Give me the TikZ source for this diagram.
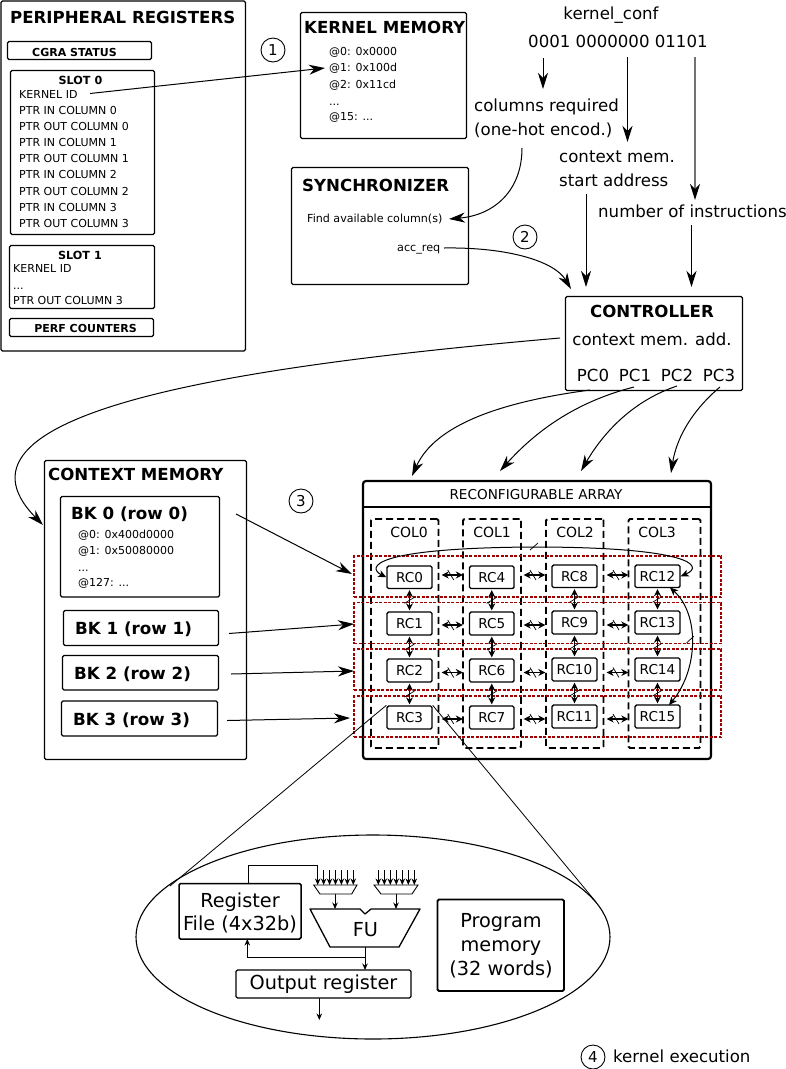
\documentclass[tikz,border=0pt]{standalone}
\usepackage{fontspec}
\setmainfont{DejaVu Sans}
\usetikzlibrary{arrows.meta,calc,shapes.geometric}
\definecolor{redline}{HTML}{A00000}
\newcommand{\FS}[1]{\fontsize{#1}{#1}\selectfont}
\newcommand{\BB}[7]{% name x1 y1 x2 y2 style text
  \node[boxbase,#6,minimum width=#4 pt-#2 pt,minimum height=#5 pt-#3 pt] (#1) at ({(#2+#4)/2},{(#3+#5)/2}) {#7};}
\newcommand{\TL}[5]{\node[anchor=west,yshift={-0.11*#4 pt},inner sep=0pt,font=\FS{#4}] (#1) at (#2,#3) {\vphantom{Ag}#5};}
\newcommand{\TB}[5]{\node[anchor=west,yshift={-0.11*#4 pt},inner sep=0pt,font=\FS{#4}\bfseries] (#1) at (#2,#3) {\vphantom{Ag}#5};}
\newcommand{\TC}[5]{\node[anchor=center,yshift={-0.11*#4 pt},inner sep=0pt,font=\FS{#4}] (#1) at (#2,#3) {\vphantom{Ag}#5};}
\newcommand{\TCB}[5]{\node[anchor=center,yshift={-0.11*#4 pt},inner sep=0pt,font=\FS{#4}\bfseries] (#1) at (#2,#3) {\vphantom{Ag}#5};}
\newcommand{\CIRC}[4]{\node[circle,draw,line width=0.9pt,minimum size=24pt,inner sep=0pt,font=\FS{15}] (#1) at (#2,#3) {#4};}
\tikzset{
  boxbase/.style={draw,inner sep=0pt,line width=1.1pt,rounded corners=1.5pt,align=center},
  panel/.style={fill=white},
  bigarrow/.style={line width=1pt,-{Stealth[length=16pt,width=10pt,inset=5pt]}},
  rclink/.style={line width=1.6pt,{Stealth[length=7pt,width=7pt]}-{Stealth[length=7pt,width=7pt]}},
  feed/.style={line width=1pt,-{Stealth[length=6.5pt,width=5.5pt]}},
  rcbox/.style={line width=1.4pt,fill=white,font=\FS{13.6}},
  coldash/.style={draw,line width=1.9pt,dash pattern=on 7pt off 4pt,rounded corners=1.5pt},
  rowdash/.style={draw=redline,line width=1.1pt,dash pattern=on 3pt off 1.5pt},
}
\newcommand{\HL}[3]{%
  \draw[rclink,shorten <=9pt,shorten >=6pt] (#1.east |- 0,#3) -- (#2.west |- 0,#3);
  \draw[line width=0.7pt] ($(#1.east |- 0,#3)!0.5!(#2.west |- 0,#3)+(-3,-5)$) -- ++(6,10);}
\newcommand{\VL}[2]{%
  \draw[rclink,shorten <=1pt,shorten >=1pt] (#1.south) -- (#2.north);
  \draw[line width=0.7pt] ($(#1.south)!0.5!(#2.north)+(-5,3)$) -- ++(10,-6);}
\begin{document}
\begin{tikzpicture}[x=1pt,y=-1pt]
\useasboundingbox (0,0) rectangle (786,1069);
% peripheral registers
\BB{periph}{1}{1}{245.5}{351}{panel}{}
\TB{periphT}{10}{17}{16.6}{PERIPHERAL REGISTERS}
\BB{status}{7.5}{41.5}{151.5}{59.5}{}{}
\TCB{statusT}{74.5}{52}{11}{CGRA STATUS}
\BB{slotz}{10.5}{70.5}{154.5}{234.5}{}{}
\TCB{slotzT}{80.5}{80}{11.2}{SLOT 0}
\TL{kid}{19}{94}{11}{KERNEL ID}
\TL{pa}{19}{110}{11}{PTR IN COLUMN 0}
\TL{pb}{19}{126}{11}{PTR OUT COLUMN 0}
\TL{pc}{19}{142}{11}{PTR IN COLUMN 1}
\TL{pd}{19}{158}{11}{PTR OUT COLUMN 1}
\TL{pe}{19}{174}{11}{PTR IN COLUMN 2}
\TL{pf}{19}{191}{11}{PTR OUT COLUMN 2}
\TL{pg}{19}{207}{11}{PTR IN COLUMN 3}
\TL{ph}{19}{223}{11}{PTR OUT COLUMN 3}
\BB{sloto}{9.5}{245.5}{154.5}{308.5}{}{}
\TCB{slotoT}{80}{255}{11.2}{SLOT 1}
\TL{ska}{13}{268}{11}{KERNEL ID}
\TL{skb}{13}{285}{11}{...}
\TL{skc}{13}{300}{11}{PTR OUT COLUMN 3}
\BB{perf}{9.5}{318.5}{153.5}{336.5}{}{}
\TCB{perfT}{85.5}{328}{11}{PERF COUNTERS}
% kernel memory
\BB{kmem}{300.5}{12.5}{466.5}{138.5}{panel}{}
\TB{kmemT}{304}{27}{16.6}{KERNEL MEMORY}
\TL{kma}{329}{51}{11}{@0: 0x0000}
\TL{kmb}{329}{67}{11}{@1: 0x100d}
\TL{kmc}{329}{84}{11}{@2: 0x11cd}
\TL{kmd}{329}{101}{11}{...}
\TL{kme}{329}{116}{11}{@15: ...}
\CIRC{cone}{273}{50}{1}
\coordinate (kidstart) at (90,93.5);
\coordinate (kidend) at (325,68);
\draw[bigarrow] (kidstart) -- (kidend);
% synchronizer
\BB{sync}{291.5}{167.5}{468.5}{284.5}{panel}{}
\TB{syncT}{302}{185}{16.6}{SYNCHRONIZER}
\TL{find}{307}{218}{11.1}{Find available column(s)}
\TL{req}{397}{248}{11.2}{acc\_req}
% kernel conf
\TC{kc0}{611}{13}{16.6}{kernel\_conf}
\TL{bits}{528}{41}{16.6}{0001 0000000 01101}
\TL{colsA}{474}{105}{16.6}{columns required}
\TL{colsB}{474}{129}{16.6}{(one-hot encod.)}
\TL{ctxA}{559}{156}{16.6}{context mem.}
\TL{ctxB}{559}{180}{16.6}{start address}
\TL{numi}{598}{211}{16.6}{number of instructions}
\coordinate (ba) at (543,58); \coordinate (bb) at (543,89);
\coordinate (ca) at (627.5,57); \coordinate (cb) at (627.5,142);
\coordinate (da) at (695,57); \coordinate (db) at (695,200);
\coordinate (ea) at (586,194); \coordinate (eb) at (586,287);
\coordinate (fa) at (691.5,225); \coordinate (fb) at (691.5,287);
\draw[bigarrow] (ba) -- (bb);
\draw[bigarrow] (ca) -- (cb);
\draw[bigarrow,line width=1.4pt,draw=black!55,-{Stealth[length=16pt,width=10pt,inset=5pt,color=black]}] (da) -- (db);
\draw[bigarrow] (ea) -- (eb);
\draw[bigarrow] (fa) -- (fb);
\coordinate (ga) at (522,148); \coordinate (gb) at (449,219);
\draw[bigarrow] (ga) .. controls (522,190) and (495,215) .. (gb);
\coordinate (ha) at (444,248); \coordinate (hb) at (571,289);
\draw[bigarrow] (ha) .. controls (510,247) and (555,262) .. (hb);
\CIRC{ctwo}{525}{237}{2}
% controller
\BB{ctrl}{565.5}{296.5}{742.5}{390.5}{panel}{}
\TCB{ctrlT}{652}{311}{16.6}{CONTROLLER}
\TC{ctrlA}{652}{339}{16.6}{context mem. add.}
\TC{pcz}{593}{375}{16.6}{PC0}
\TC{pco}{635}{375}{16.6}{PC1}
\TC{pct}{677}{375}{16.6}{PC2}
\TC{pcth}{719}{375}{16.6}{PC3}
\coordinate (ia) at (560,338); \coordinate (ib) at (43,525);
\draw[bigarrow] (ia) .. controls (250,365) and (-70,410) .. (ib);
\coordinate (ja) at (590,390); \coordinate (jb) at (412,476);
\draw[bigarrow] (ja) .. controls (500,402) and (435,425) .. (jb);
\coordinate (pk) at (634,387); \coordinate (pl) at (500,471);
\draw[bigarrow] (pk) .. controls (575,402) and (535,432) .. (pl);
\coordinate (la) at (677,386); \coordinate (lb) at (581,471);
\draw[bigarrow] (la) .. controls (635,400) and (605,430) .. (lb);
\coordinate (pm) at (720,387); \coordinate (pn) at (671,473);
\draw[bigarrow] (pm) .. controls (695,408) and (677,435) .. (pn);
% context memory
\BB{cmem}{44.5}{460.5}{246.5}{759.5}{panel}{}
\TB{cmemT}{48}{474}{16.6}{CONTEXT MEMORY}
\BB{bkz}{60.5}{496.5}{219.5}{597}{}{}
\TB{bkzT}{71}{513}{16.7}{BK 0 (row 0)}
\TL{ba1}{78}{534}{11}{@0: 0x400d0000}
\TL{ba2}{78}{550}{11}{@1: 0x50080000}
\TL{ba3}{78}{567}{11}{...}
\TL{ba4}{78}{582}{11}{@127: ...}
\BB{bko}{63.5}{610.5}{218.5}{645.5}{}{}
\TB{bkoT}{75}{628}{16.7}{BK 1 (row 1)}
\BB{bkt}{62.5}{655.5}{218.5}{690}{}{}
\TB{bktT}{74}{673}{16.7}{BK 2 (row 2)}
\BB{bkh}{61.5}{701}{217.5}{736}{}{}
\TB{bkhT}{73}{719}{16.7}{BK 3 (row 3)}
\CIRC{cthree}{301}{501}{3}
% array
\node[draw,line width=2.2pt,rounded corners=3pt,minimum width=348pt,minimum height=278pt,inner sep=0pt,fill=white] (rarr) at (537,620) {};
\coordinate (hl) at (363,507); \coordinate (hr) at (711,507);
\draw[line width=2pt] (hl) -- (hr);
\TC{raT}{536}{494}{13.6}{RECONFIGURABLE ARRAY}
\BB{cz}{371}{519}{438.5}{748}{coldash}{}
\BB{co}{463}{519}{521}{748}{coldash}{}
\BB{ct}{546}{519}{603.5}{748}{coldash}{}
\BB{ch}{628.5}{519}{700.5}{748}{coldash}{}
\TC{czT}{409}{532}{14}{COL0}
\TC{coT}{492}{532}{14}{COL1}
\TC{ctT}{575}{532}{14}{COL2}
\TC{chT}{657}{532}{14}{COL3}
\BB{rza}{354}{556}{721}{597}{rowdash,rounded corners=0pt}{}
\BB{rzb}{354}{602.5}{721}{643.5}{rowdash,rounded corners=0pt}{}
\BB{rzc}{354}{649}{721}{690}{rowdash,rounded corners=0pt}{}
\BB{rzd}{354}{696}{721}{737}{rowdash,rounded corners=0pt}{}
\BB{rc0}{387}{566}{432}{588.5}{rcbox}{RC0}
\BB{rc1}{387}{612}{432}{635}{rcbox}{RC1}
\BB{rc2}{387}{659}{432}{682}{rcbox}{RC2}
\BB{rc3}{387}{706}{432}{729}{rcbox}{RC3}
\BB{rc4}{469.5}{566}{514}{588.5}{rcbox}{RC4}
\BB{rc5}{469.5}{612}{514}{635}{rcbox}{RC5}
\BB{rc6}{469.5}{659}{514}{682}{rcbox}{RC6}
\BB{rc7}{469.5}{706}{514}{729}{rcbox}{RC7}
\BB{rc8}{552}{565}{597}{587.5}{rcbox}{RC8}
\BB{rc9}{552}{611}{597}{634}{rcbox}{RC9}
\BB{rc10}{552}{658}{597}{681}{rcbox}{RC10}
\BB{rc11}{552}{705}{597}{728}{rcbox}{RC11}
\BB{rc12}{635}{565}{680}{587.5}{rcbox}{RC12}
\BB{rc13}{635}{611}{680}{634}{rcbox}{RC13}
\BB{rc14}{635}{658}{680}{681}{rcbox}{RC14}
\BB{rc15}{635}{705}{680}{728}{rcbox}{RC15}
\VL{rc0}{rc1}\VL{rc1}{rc2}\VL{rc2}{rc3}
\VL{rc4}{rc5}\VL{rc5}{rc6}\VL{rc6}{rc7}
\VL{rc8}{rc9}\VL{rc9}{rc10}\VL{rc10}{rc11}
\VL{rc12}{rc13}\VL{rc13}{rc14}\VL{rc14}{rc15}
\HL{rc0}{rc4}{575}\HL{rc4}{rc8}{575}\HL{rc8}{rc12}{575}
\HL{rc1}{rc5}{625}\HL{rc5}{rc9}{625}\HL{rc9}{rc13}{625}
\HL{rc2}{rc6}{672.5}\HL{rc6}{rc10}{672.5}\HL{rc10}{rc14}{672.5}
\HL{rc3}{rc7}{719}\HL{rc7}{rc11}{719}\HL{rc11}{rc15}{719}
\draw[line width=1pt,{Stealth[length=8pt,width=7pt,inset=2pt]}-{Stealth[length=8pt,width=7pt,inset=2pt]}] (rc0.west) .. controls (368,568) and (368,548) .. (533,547) .. controls (690,547) and (705,566) .. (rc12.east);
\coordinate (rtop) at (670,587.5); \coordinate (rbot) at (669,705);
\draw[line width=1pt,{Stealth[length=8pt,width=7pt,inset=2pt]}-{Stealth[length=8pt,width=7pt,inset=2pt]}] (rtop) .. controls (700,615) and (698,670) .. (rbot);
\coordinate (tka) at (530,550); \coordinate (tkb) at (538,543);
\draw[line width=0.7pt] (tka) -- (tkb);
\coordinate (tkc) at (686.5,643); \coordinate (tkd) at (694,636);
\draw[line width=0.7pt] (tkc) -- (tkd);
% arrows into rows
\coordinate (na) at (236,514); \coordinate (pa1) at (229,633.5); \coordinate (pa2) at (231,674); \coordinate (pa3) at (227,720.5);
\coordinate (ne) at (352,574); \coordinate (pe1) at (354,624); \coordinate (pe2) at (354,671); \coordinate (pe3) at (350,718);
\draw[bigarrow] (na) -- (ne);
\draw[bigarrow] (pa1) -- (pe1);
\draw[bigarrow] (pa2) -- (pe2);
\draw[bigarrow] (pa3) -- (pe3);
% zoom lines and ellipse
\coordinate (zl) at (170,886); \coordinate (zr) at (596,902);
\draw[line width=0.8pt] (rc3.north west) -- (zl);
\draw[line width=0.8pt] (rc3.north east) -- (zr);
\node[draw,ellipse,line width=1.1pt,minimum width=474pt,minimum height=204pt,inner sep=0pt] (cell) at (373,937) {};
% cell content
\BB{regf}{179}{883.5}{301}{939}{line width=1.5pt,fill=white}{}
\TC{regA}{240}{900}{19.3}{Register}
\TC{regB}{240}{923}{19.3}{File (4x32b)}
\BB{outr}{236}{970}{411}{998}{line width=1.2pt,font=\FS{19.3}}{Output register}
\BB{prog}{437.5}{899.5}{564}{991}{line width=1.9pt}{}
\TC{progA}{501}{920}{19.3}{Program}
\TC{progB}{501}{944}{19.3}{memory}
\TC{progC}{501}{968}{19.3}{(32 words)}
\coordinate (fua) at (310,909); \coordinate (fub) at (360,909); \coordinate (fuc) at (365,914); \coordinate (fud) at (371,909); \coordinate (fue) at (420,909); \coordinate (fuf) at (399,947); \coordinate (fug) at (330,947);
\draw[line width=1.3pt,line join=round] (fua) -- (fub) -- (fuc) -- (fud) -- (fue) -- (fuf) -- (fug) -- cycle;
\TC{fuT}{365.5}{929}{19.3}{FU}
\coordinate (mla) at (313.7,885); \coordinate (mlb) at (357,885); \coordinate (mlc) at (351.7,894); \coordinate (mld) at (320,894);
\coordinate (mra) at (374,885); \coordinate (mrb) at (418,885); \coordinate (mrc) at (412,894); \coordinate (mrd) at (381,894);
\draw[line width=0.9pt] (mla) -- (mlb) -- (mlc) -- (mld) -- cycle;
\draw[line width=0.9pt] (mra) -- (mrb) -- (mrc) -- (mrd) -- cycle;
\foreach \n in {0,...,6}{
  \coordinate (il\n) at ({317.7+5.93*\n},870); \coordinate (jl\n) at ({317.7+5.93*\n},885);
  \coordinate (ir\n) at ({378.3+6*\n},870); \coordinate (jr\n) at ({378.3+6*\n},885);
  \draw[feed] (il\n) -- (jl\n);
  \draw[feed] (ir\n) -- (jr\n);
}
\coordinate (qa) at (335,894); \coordinate (qb) at (335,909);
\coordinate (qc) at (396,894); \coordinate (qd) at (396,909);
\draw[feed] (qa) -- (qb);
\draw[feed] (qc) -- (qd);
\coordinate (ra1) at (248.3,883.5); \coordinate (ra2) at (248.3,865.3); \coordinate (ra3) at (317.7,865.3);
\draw[line width=1pt] (ra1) -- (ra2) -- (ra3) -- (il0);
\coordinate (oa) at (365,947); \coordinate (ob) at (365,970); \coordinate (oc) at (365,957); \coordinate (od) at (247.3,957); \coordinate (oe) at (247.3,939);
\draw[feed] (oa) -- (ob);
\draw[feed] (oc) -- (od) -- (oe);
\coordinate (ta) at (319.3,998); \coordinate (tb) at (319.3,1020);
\draw[feed] (ta) -- (tb);
\CIRC{cfour}{593}{1057}{4}
\TL{kex}{613}{1056}{16.6}{kernel execution}
\end{tikzpicture}
\end{document}
